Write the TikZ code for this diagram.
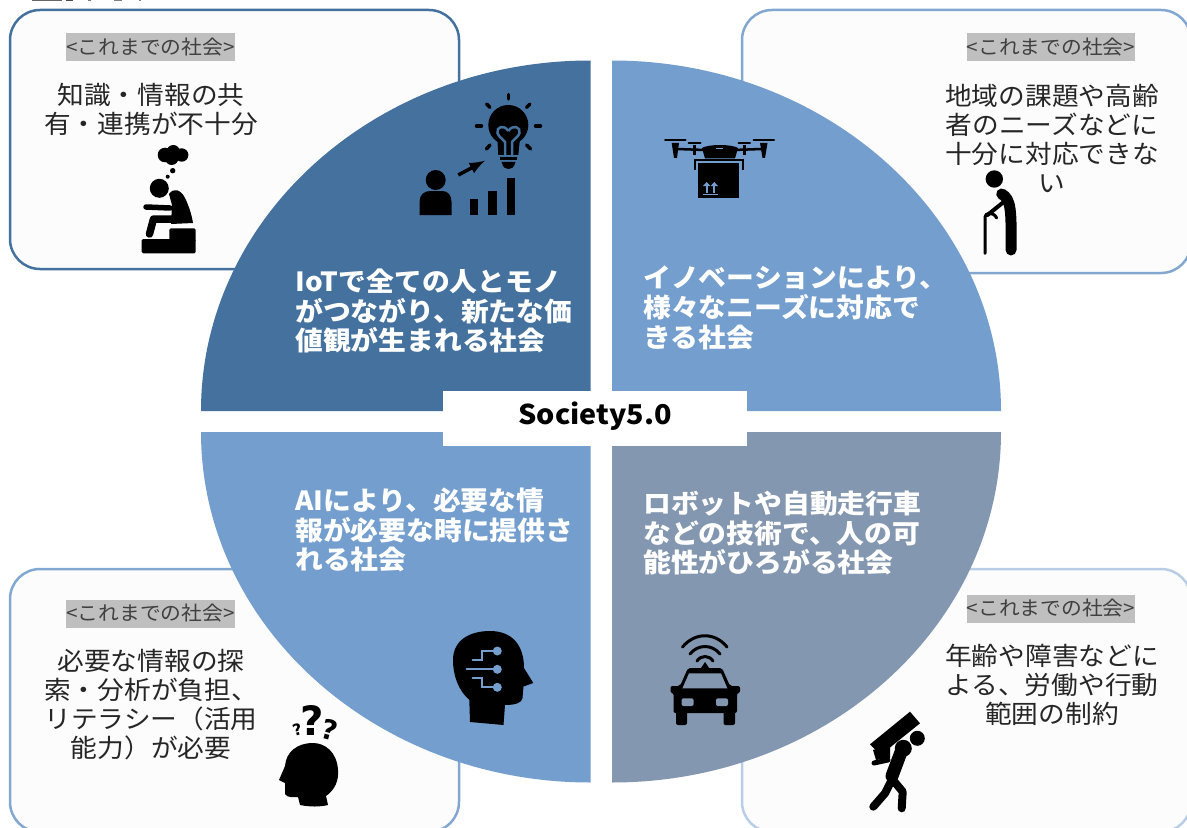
\documentclass[tikz,border=0pt]{standalone}
\usepackage{fontspec}
\setmainfont{Noto Sans CJK JP}[FakeStretch=1.055]
\newfontfamily\symfont{DejaVu Sans}
\usepackage{tikz}
\definecolor{wedgedark}{HTML}{44719E}
\definecolor{wedgemid}{HTML}{749ECD}
\definecolor{wedgegrey}{HTML}{8497B0}
\definecolor{boxfill}{HTML}{FCFCFC}
\definecolor{tagfill}{HTML}{BFBFBF}
\newcommand{\unit}{0.02cm}
\tikzset{
	oldbox/.style={fill=boxfill,line width=2.5*\unit,rounded corners=30*\unit},
	tagnode/.style={fill=tagfill,text=black!75,inner sep=0pt,minimum width=165*\unit,minimum height=28*\unit,font=\fontsize{11.2}{13}\selectfont},
	oldtext/.style={align=center,inner sep=0pt,text=black!85,font=\fontsize{14.4}{16.5}\selectfont},
	newtext/.style={anchor=west,align=left,inner sep=0pt,text=white,font=\bfseries\fontsize{15}{17}\selectfont},
	thin icon/.style={line width=2*\unit,line cap=round},
	mid icon/.style={line width=3.5*\unit,line cap=round},
	thick icon/.style={line width=8*\unit,line cap=round,line join=round},
	qmark/.style={inner sep=0pt,font=\symfont\bfseries}
}

\begin{document}
\begin{tikzpicture}[x=\unit,y=-\unit]
				\useasboundingbox (0,0) rectangle (1187,828);
				\clip (0,0) rectangle (1187,828);
				\fill[black!60] (32,0) rectangle (62,1.5);
				\fill[black!70] (66,0) rectangle (73,1.5);
				\fill[black!50] (88,0) rectangle (91,1.5);
				\fill[black!50] (114,0) rectangle (122,1.5);
				\fill[black!50] (139,0) rectangle (141,1.5);
				\draw[oldbox,draw=wedgedark] (10,10) rectangle (459,269);
				\draw[oldbox,draw=wedgemid!90!white] (742,10) rectangle (1191,273);
				\draw[oldbox,draw=wedgemid!90!white] (10,569) rectangle (459,832);
				\draw[oldbox,draw=wedgemid!50!white] (742,569) rectangle (1191,832);
				\fill[wedgedark] (590.5,411) -- (201,411) arc[start angle=180,end angle=270,x radius=389.5,y radius=350.5] -- cycle;
				\fill[wedgemid] (612,411) -- (612,60.5) arc[start angle=270,end angle=360,x radius=389,y radius=350.5] -- cycle;
				\fill[wedgemid] (590.5,432) -- (590.5,782.5) arc[start angle=90,end angle=180,x radius=389.5,y radius=350.5] -- cycle;
				\fill[wedgegrey] (612,432) -- (1001,432) arc[start angle=0,end angle=90,x radius=389,y radius=350.5] -- cycle;
				\fill[white] (443,391) rectangle (747,445.5);
				\node[inner sep=0pt,font=\bfseries\fontsize{15.5}{18}\selectfont] (society) at (595,416) {Society5.0};
				\node[tagnode] (tagtl) at (150.5,47) {<これまでの社会>};
				\node[tagnode] (tagtr) at (1051,47) {<これまでの社会>};
				\node[tagnode] (tagbl) at (150.5,613.5) {<これまでの社会>};
				\node[tagnode] (tagbr) at (1051,608.5) {<これまでの社会>};
				\node[oldtext] (oldtl) at (151,109) {知識・情報の共\\有・連携が不十分};
				\node[oldtext] (oldtr) at (1052,138.5) {地域の課題や高齢\\者のニーズなどに\\十分に対応できな\\い};
				\node[oldtext] (oldbl) at (151,705) {必要な情報の探\\索・分析が負担、\\リテラシー（活用\\能力）が必要};
				\node[oldtext] (oldbr) at (1052,685) {年齢や障害などに\\よる、労働や行動\\範囲の制約};
				\node[newtext] (newtl) at (295,311) {IoTで全ての人とモノ\\がつながり、新たな価\\値観が生まれる社会};
				\node[newtext] (newtr) at (643,308) {イノベーションにより、\\様々なニーズに対応で\\きる社会};
				\node[newtext] (newbl) at (295,530) {AIにより、必要な情\\報が必要な時に提供さ\\れる社会};
				\node[newtext] (newbr) at (643,533) {ロボットや自動走行車\\などの技術で、人の可\\能性がひろがる社会};
				\fill (165,155) circle (7.3) (173.3,151.7) circle (6.7) (181.7,155) circle (6.7) (171.7,158.3) circle (6.7);
				\fill (172.7,170.7) circle (2.7) (167.7,176.7) circle (2);
				\fill (159.3,188.3) circle (9.5);
				\fill (169,194) .. controls (174,187) and (181,190) .. (185,198) .. controls (189,206) and (192,216) .. (193,223) -- (171,224) -- (172,205) -- cycle;
				\draw[line width=5.5*\unit,line cap=round] (146,207) -- (170,208);
				\draw[line width=7.5*\unit,line cap=round,line join=round] (149.5,234) -- (153.5,219) -- (180,219);
				\fill[rounded corners=1.5*\unit] (169.3,228.3) rectangle (195.7,242);
				\fill[rounded corners=1.5*\unit] (141.7,239) rectangle (195.7,253.3);
				\fill (508.3,125) circle (20);
				\fill (497.3,138) -- (498.3,155) -- (518.3,155) -- (520,138) -- cycle;
				\fill (500,157) rectangle (517,160.5);
				\fill (501.5,162) -- (515.5,162) .. controls (514,168) and (511,169) .. (508.5,169) .. controls (506,169) and (503,168) .. (501.5,162) -- cycle;
				\draw[wedgedark,line width=2.5*\unit] (508.3,131) .. controls (504,124) and (496,127) .. (497.5,133) .. controls (498.5,137) and (503,139) .. (505,142) -- (505,155);
				\draw[wedgedark,line width=2.5*\unit] (508.3,131) .. controls (513,124) and (521,127) .. (519.5,133) .. controls (518.5,137) and (514,139) .. (512,142) -- (512,155);
				\draw[mid icon] (508.3,94.5) -- (508.3,99);
				\draw[mid icon] (486.7,104) -- (490,107.3);
				\draw[mid icon] (530,104) -- (526.7,107.3);
				\draw[mid icon] (476.5,126) -- (481.5,126);
				\draw[mid icon] (535.5,126) -- (540.5,126);
				\draw[mid icon] (490,145) -- (486.5,149);
				\draw[mid icon] (526.7,145) -- (530.5,149);
				\fill (435.7,180) circle (10);
				\fill (419.5,215) -- (419.5,202) .. controls (419.5,195) and (424,191) .. (430,191) -- (442,191) .. controls (448,191) and (451.5,195) .. (451.5,202) -- (451.5,215) -- cycle;
				\draw[line width=3.5*\unit,-latex] (458.3,175) -- (485,160.7);
				\fill (470,199.3) rectangle (478.3,215);
				\fill (488.3,191) rectangle (496.7,215);
				\fill (506.7,178.3) rectangle (515,215);
				\draw[thin icon] (665,140) -- (685.5,140);
				\draw[thin icon] (688.5,143.3) -- (700.5,143.3);
				\draw[thin icon] (753.5,140) -- (774,140);
				\draw[thin icon] (738.5,143.3) -- (750,143.3);
				\fill (671.7,143) -- (679,143) -- (677,158) -- (674,158) -- cycle;
				\fill (760,143) -- (767.5,143) -- (765,158) -- (762.5,158) -- cycle;
				\draw[line width=2.5*\unit] (677,149) -- (705,150);
				\draw[line width=2.5*\unit] (733,150) -- (762,149);
				\draw[line width=3*\unit] (694,145) -- (694,155);
				\draw[line width=3*\unit] (744,145) -- (744,155);
				\fill (702,148) .. controls (708,144) and (732,144) .. (738,148) -- (735,158.5) -- (705,158.5) -- cycle;
				\fill[wedgemid] (716,148) rectangle (723,149.5);
				\draw[line width=2*\unit] (694.5,170) -- (694.5,160.5) -- (742.5,160.5) -- (742.5,170);
				\fill (698.3,163.5) rectangle (739,197.7);
				\draw[wedgemid,line width=2.2*\unit] (706.7,193) -- (706.7,185);
				\draw[wedgemid,line width=2.2*\unit] (714.3,193) -- (714.3,185);
				\fill[wedgemid] (703,186) -- (706.7,182) -- (710.4,186) -- cycle;
				\fill[wedgemid] (710.6,186) -- (714.3,182) -- (718,186) -- cycle;
				\draw[wedgemid,line width=1.2*\unit] (702.7,194.5) -- (718.3,194.5);
				\fill (994.3,179) circle (8.7);
				\draw[line width=11*\unit,line cap=round] (1001.7,194) .. controls (1011,199) and (1011.5,210) .. (1011,250);
				\draw[line width=4*\unit,line cap=round] (1004,201.7) -- (987.5,215);
				\draw[line width=3*\unit,line cap=round] (985,253.3) -- (985,217) .. controls (985,213) and (993,211) .. (996.7,218);
				\fill (470,722) -- (469.3,700) .. controls (458,690) and (453,675) .. (453,660) .. controls (453,640) and (470,631) .. (490,631) .. controls (512,631) and (524,645) .. (524,668) -- (533.3,683) -- (523.5,686.5) -- (522.5,698) .. controls (522,703) and (515,705) .. (505,705) -- (503.5,725) -- cycle;
				\draw[wedgemid,thin icon] (472.7,660) -- (481.7,660) -- (481.7,651) -- (497.3,651);
				\draw[wedgemid,thin icon] (466.7,669.3) -- (497.3,669.3);
				\draw[wedgemid,thin icon] (472.7,678.3) -- (481.7,678.3) -- (481.7,687.3) -- (497.3,687.3);
				\fill[wedgemid] (497.3,651) circle (4.5) (497.3,669.3) circle (4.5) (497.3,687.3) circle (4.5);
				\fill (300,805) .. controls (310,807) and (320,807) .. (328,805) -- (326,796) .. controls (335,790) and (339,780) .. (338,770) .. controls (337,752) and (325,743) .. (313,743) .. controls (297,743) and (286,752) .. (285,766) -- (279,780) -- (285,783) -- (285,794) .. controls (287,798) and (293,797) .. (298,797) -- cycle;
				\node[qmark,font=\symfont\bfseries\fontsize{23}{25}\selectfont] (bigq) at (312.7,720) {?};
				\node[qmark,rotate=-15,font=\symfont\bfseries\fontsize{15.5}{17}\selectfont] (rightq) at (330,730) {?};
				\node[qmark,rotate=15,font=\symfont\bfseries\fontsize{9}{10}\selectfont] (leftq) at (297.3,730) {?};
				\draw[mid icon,line width=3*\unit] (682.5,647) .. controls (695,632) and (715,632) .. (727,647);
				\draw[mid icon,line width=3*\unit] (690,654) .. controls (698,644) and (712,644) .. (720,654);
				\draw[mid icon,line width=3*\unit] (697,661) .. controls (701,655) and (709,655) .. (713,661);
				\fill (701,668) -- (705,662) -- (709,668) -- cycle;
				\fill[rounded corners=2*\unit] (688,668) -- (722,668) -- (730,686) -- (740,686) -- (740,693) -- (737,693) -- (737,713) -- (673.5,713) -- (673.5,693) -- (670.5,693) -- (670.5,686) -- (680,686) -- cycle;
				\fill[wedgegrey] (689,673.3) -- (721,673.3) -- (727.3,688.3) -- (682.4,688.3) -- cycle;
				\fill[wedgegrey,rounded corners=2*\unit] (681.6,698.3) rectangle (693.6,706);
				\fill[wedgegrey,rounded corners=2*\unit] (716,698.3) rectangle (728,706);
				\fill[rounded corners=2*\unit] (676,710) rectangle (687,725);
				\fill[rounded corners=2*\unit] (723.5,710) rectangle (735,725);
				\fill (910,711.7) -- (920,723.3) -- (880.7,755) -- (870,744.3) -- cycle;
				\fill (917.3,738.3) circle (7.5);
				\fill (903.3,748.3) circle (8.5);
				\draw[line width=13*\unit,line cap=round] (901,752) -- (892,776);
				\fill (873,750) -- (890,745) -- (890,758) -- (876,760) -- cycle;
				\draw[line width=5*\unit,line cap=round] (874,763) -- (888,760);
				\draw[thick icon] (891.7,780) -- (885,793.3) -- (873.3,806.7);
				\draw[thick icon] (893,780) -- (902.7,791.7) -- (901.7,808.3);
			\end{tikzpicture}
\end{document}
